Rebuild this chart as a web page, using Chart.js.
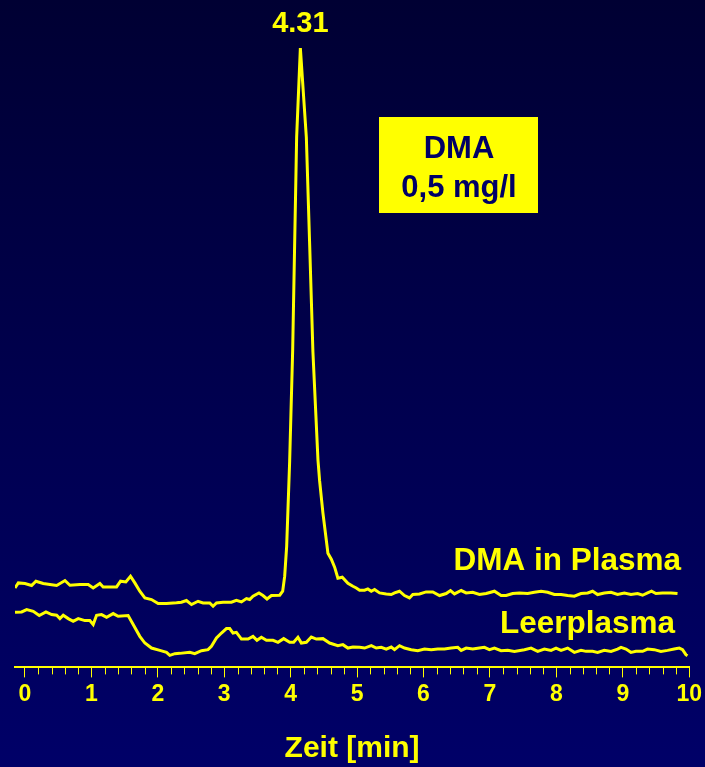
<!DOCTYPE html>
<html>
<head>
<meta charset="utf-8">
<script src="https://cdn.jsdelivr.net/npm/chart.js@4.4.1/dist/chart.umd.min.js"></script>
<style>
  html, body { margin: 0; padding: 0; background: #000040; }
  canvas { display: block; }
</style>
</head>
<body>
<canvas id="myChart" width="705" height="767"></canvas>
<script>
// retention time in min, detector signal in arbitrary units
const dmaTime = [-0.15, -0.10, 0.00, 0.10, 0.165, 0.275, 0.376, 0.477, 0.602, 0.677, 0.827, 0.952, 1.027, 1.128, 1.177, 1.278, 1.379, 1.439, 1.519, 1.589, 1.654, 1.729, 1.805, 1.905, 2.005, 2.131, 2.230, 2.281, 2.356, 2.431, 2.507, 2.606, 2.681, 2.782, 2.832, 2.883, 2.982, 3.108, 3.183, 3.259, 3.334, 3.383, 3.433, 3.523, 3.583, 3.644, 3.710, 3.835, 3.880, 3.910, 3.940, 3.985, 4.030, 4.090, 4.146, 4.236, 4.286, 4.335, 4.411, 4.436, 4.486, 4.561, 4.612, 4.662, 4.711, 4.777, 4.862, 4.937, 4.988, 5.038, 5.113, 5.162, 5.214, 5.263, 5.338, 5.439, 5.514, 5.564, 5.639, 5.714, 5.789, 5.839, 5.940, 6.039, 6.140, 6.241, 6.341, 6.406, 6.466, 6.567, 6.642, 6.741, 6.842, 6.943, 7.068, 7.168, 7.244, 7.343, 7.444, 7.568, 7.669, 7.770, 7.869, 7.970, 8.071, 8.170, 8.271, 8.371, 8.471, 8.546, 8.621, 8.722, 8.823, 8.922, 9.023, 9.123, 9.223, 9.298, 9.373, 9.433, 9.499, 9.598, 9.725, 9.824];
const dmaSignal = [79.3, 84.3, 83.7, 81.7, 86, 83.7, 82.7, 81.7, 86.7, 82, 82.7, 82.7, 79.3, 83.7, 80.3, 80.3, 80.3, 86, 85.3, 91, 84.3, 76, 69.3, 67.7, 63.7, 63.7, 64.3, 64.5, 65, 66.7, 62.7, 66, 64.3, 64.3, 61, 64.3, 65, 65, 67, 65.3, 68.7, 67.7, 71, 74.3, 71.7, 68.3, 71.7, 72, 76, 91, 121, 206, 316, 529, 618, 529, 422, 315, 207, 186, 154, 114, 108, 100, 89, 90, 84, 81, 79.3, 77, 77, 78.3, 76, 77.7, 74.3, 73.3, 72.7, 74.3, 76, 71.7, 69.3, 72.7, 73.3, 75.3, 75.3, 71.7, 73.7, 76.7, 73.3, 76.7, 74.3, 75, 72.7, 73.7, 76, 71.7, 71.7, 73.7, 74.3, 73.7, 75, 76, 75, 72.7, 72.7, 71.7, 71, 73.7, 74.3, 76, 72.7, 74.3, 75, 72.7, 74.3, 72.7, 73.7, 72, 74.3, 76, 73.7, 74.3, 74.3, 73.7];

const leerTime = [-0.15, -0.05, 0.026, 0.125, 0.215, 0.316, 0.402, 0.477, 0.526, 0.576, 0.651, 0.726, 0.802, 0.902, 0.977, 1.027, 1.078, 1.153, 1.229, 1.328, 1.403, 1.553, 1.629, 1.729, 1.805, 1.905, 2.030, 2.131, 2.180, 2.256, 2.331, 2.481, 2.556, 2.657, 2.756, 2.807, 2.883, 2.958, 3.033, 3.083, 3.132, 3.183, 3.259, 3.358, 3.433, 3.493, 3.559, 3.635, 3.734, 3.809, 3.895, 3.985, 4.045, 4.110, 4.161, 4.236, 4.311, 4.386, 4.486, 4.586, 4.711, 4.786, 4.862, 4.937, 5.038, 5.113, 5.214, 5.289, 5.364, 5.439, 5.514, 5.564, 5.639, 5.714, 5.815, 5.914, 6.015, 6.116, 6.215, 6.316, 6.416, 6.516, 6.567, 6.642, 6.741, 6.842, 6.917, 6.992, 7.068, 7.168, 7.268, 7.368, 7.519, 7.619, 7.719, 7.820, 7.920, 7.995, 8.071, 8.170, 8.271, 8.371, 8.447, 8.546, 8.621, 8.722, 8.823, 8.922, 8.973, 9.048, 9.123, 9.198, 9.298, 9.373, 9.474, 9.574, 9.674, 9.774, 9.850, 9.900, 9.950, 9.974];
const leerSignal = [55, 55.3, 57.7, 56, 51.7, 55.3, 52.7, 52, 48.7, 52, 48.7, 46, 48.7, 46.7, 46.7, 42.7, 52, 52.7, 50, 53.7, 51, 51.7, 42.7, 31, 24.3, 19.3, 17, 15, 12, 13.7, 14, 15, 13.7, 16.7, 17.7, 21, 29.3, 34.3, 38.7, 38.7, 34.3, 35, 28.3, 28.3, 31, 27, 30, 27, 27, 25, 28.7, 25, 25, 30, 24.3, 25, 30.3, 28.3, 28.7, 24.3, 21.7, 22.7, 19.3, 20.3, 20, 19.3, 21.7, 19.3, 20, 18.3, 20.3, 17.7, 21.7, 19.3, 17.7, 16.7, 18.3, 17.7, 18.3, 18.3, 19.3, 20, 17, 19.3, 18.3, 19.3, 20, 17.7, 19.3, 16.7, 17, 16, 17.7, 19.3, 16, 18.3, 17, 19.3, 17, 19.3, 15, 17, 16, 16, 15, 17, 16, 18.3, 20, 18.3, 15, 16, 16, 18.3, 17.7, 16, 17, 18.3, 19.3, 17.7, 12.7, 11.7];

const majorTicks = [0, 1, 2, 3, 4, 5, 6, 7, 8, 9, 10];
const peakLabel = '4.31';

const yellow = '#ffff00';
const navy = '#000066';
const fontFamily = '"Liberation Sans", Arial, sans-serif';

function toPoints(times, values) {
    return times.map((t, i) => ({x: t, y: values[i]}));
}

// slide background + texts + minor ticks
const slidePlugin = {
    id: 'slide',
    beforeDraw(chart) {
        const c = chart.ctx;
        const g = c.createLinearGradient(0, 0, 0, chart.height);
        g.addColorStop(0, '#000033');
        g.addColorStop(1, '#000068');
        c.save();
        c.fillStyle = g;
        c.fillRect(0, 0, chart.width, chart.height);
        c.restore();
    },
    afterDraw(chart) {
        const c = chart.ctx;
        const x = chart.scales.x;
        const y = chart.scales.y;
        const base = chart.chartArea.bottom;

        // minor ticks every 0.2 min
        c.save();
        c.strokeStyle = yellow;
        c.lineWidth = 1;
        for (let i = 0; i <= 50; i++) {
            if (i % 5 === 0) continue;
            const px = Math.round(x.getPixelForValue(i / 5)) + 0.5;
            c.beginPath();
            c.moveTo(px, base);
            c.lineTo(px, base + 7);
            c.stroke();
        }

        c.fillStyle = yellow;
        c.font = 'bold 29px ' + fontFamily;
        c.textAlign = 'center';
        c.textBaseline = 'alphabetic';
        const peakIdx = dmaSignal.indexOf(Math.max(...dmaSignal));
        c.fillText(peakLabel, x.getPixelForValue(dmaTime[peakIdx]), y.getPixelForValue(dmaSignal[peakIdx]) - 16);

        c.font = 'bold 31.5px ' + fontFamily;
        c.textAlign = 'right';
        c.fillText('DMA in Plasma', 681, 570);
        c.fillText('Leerplasma', 675, 633);

        // legend box
        c.fillStyle = yellow;
        c.fillRect(379, 117, 159, 96);
        c.fillStyle = navy;
        c.textAlign = 'center';
        c.font = 'bold 31px ' + fontFamily;
        c.fillText('DMA', 459, 158);
        c.fillText('0,5 mg/l', 459, 197);
        c.restore();
    }
};

new Chart(document.getElementById('myChart'), {
    type: 'line',
    data: {
        datasets: [{
            label: 'DMA in Plasma',
            data: toPoints(dmaTime, dmaSignal),
            borderColor: yellow,
            borderWidth: 3,
            pointRadius: 0,
            tension: 0,
            fill: false
        }, {
            label: 'Leerplasma',
            data: toPoints(leerTime, leerSignal),
            borderColor: yellow,
            borderWidth: 3,
            pointRadius: 0,
            tension: 0,
            fill: false
        }]
    },
    options: {
        responsive: false,
        animation: false,
        layout: {
            padding: {left: 15, right: 15, top: 36, bottom: 0}
        },
        plugins: {
            legend: {display: false},
            tooltip: {enabled: false},
            title: {display: false}
        },
        scales: {
            x: {
                type: 'linear',
                min: -0.15,
                max: 10,
                afterBuildTicks: (scale) => {
                    scale.ticks = majorTicks.map(v => ({value: v}));
                },
                grid: {
                    display: true,
                    drawOnChartArea: false,
                    drawTicks: true,
                    tickLength: 10,
                    color: yellow,
                    lineWidth: 1
                },
                border: {display: true, color: yellow, width: 2},
                ticks: {
                    color: yellow,
                    padding: 3,
                    maxRotation: 0,
                    autoSkip: false,
                    font: {family: fontFamily, size: 23, weight: 'bold'},
                    callback: (v) => String(v)
                },
                title: {
                    display: true,
                    text: 'Zeit [min]',
                    color: yellow,
                    font: {family: fontFamily, size: 30, weight: 'bold'},
                    padding: {top: 20, bottom: 0}
                }
            },
            y: {
                display: false,
                min: 0,
                max: 630
            }
        }
    },
    plugins: [slidePlugin]
});
</script>
</body>
</html>
